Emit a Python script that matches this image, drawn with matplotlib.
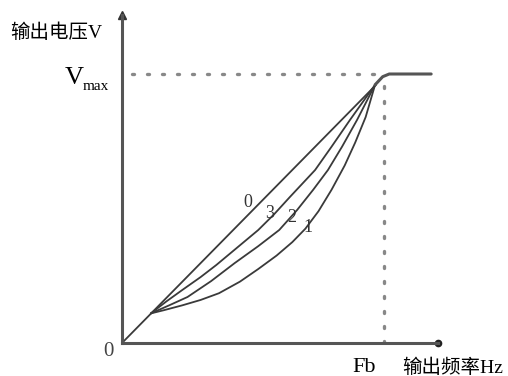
import matplotlib
matplotlib.use('Agg')
import matplotlib.pyplot as plt

# V/F curve data, x in units of Fb, y in units of Vmax
fb = 1.0
vmax = 1.0

x0 = [0.0, 0.97]
y0 = [0.0, 0.96]

x3 = [0.11, 0.17, 0.23, 0.30, 0.36, 0.44, 0.52, 0.58, 0.641, 0.737, 0.80, 0.87, 0.966]
y3 = [0.11, 0.155, 0.197, 0.245, 0.29, 0.355, 0.42, 0.478, 0.543, 0.643, 0.73, 0.829, 0.96]

x2 = [0.11, 0.18, 0.25, 0.34, 0.43, 0.52, 0.60, 0.668, 0.73, 0.786, 0.84, 0.897, 0.966]
y2 = [0.11, 0.14, 0.171, 0.23, 0.297, 0.36, 0.42, 0.494, 0.57, 0.643, 0.73, 0.829, 0.96]

x1 = [0.11, 0.16, 0.23, 0.30, 0.37, 0.45, 0.52, 0.59, 0.65, 0.70, 0.75, 0.80, 0.85, 0.89, 0.93, 0.966]
y1 = [0.11, 0.122, 0.14, 0.16, 0.185, 0.228, 0.275, 0.325, 0.375, 0.425, 0.49, 0.57, 0.66, 0.745, 0.84, 0.96]

# common part: knee and flat section above Fb
x_top = [0.966, 0.995, 1.02, 1.18]
y_top = [0.96, 0.99, 1.0, 1.0]

labels = ['0', '3', '2', '1']
label_pos = [(0.481, 0.524), (0.565, 0.483), (0.649, 0.465), (0.71, 0.428)]

W, H = 508, 376
fig = plt.figure(figsize=(W / 100, H / 100), dpi=100)
ax = fig.add_axes([122 / W, 33 / H, 316 / W, 328 / H])
ax.set_xlim(0, 316 / 262)
ax.set_ylim(0, 328 / 269)

for s in ['top', 'right']:
    ax.spines[s].set_visible(False)
for s in ['left', 'bottom']:
    ax.spines[s].set_linewidth(2.2)
    ax.spines[s].set_color('#555555')
ax.set_xticks([])
ax.set_yticks([])

# arrow heads
ax.plot(0, 1, marker='^', ms=6, color='#333333', transform=ax.transAxes, clip_on=False)
ax.plot(1, 0, marker='o', ms=4.5, color='#222222', transform=ax.transAxes, clip_on=False)

lc = '#3a3a3a'
for xs, ys in [(x0, y0), (x3, y3), (x2, y2), (x1, y1)]:
    ax.plot(xs, ys, color=lc, lw=1.3, solid_capstyle='round', solid_joinstyle='round')
ax.plot(x_top, y_top, color='#555555', lw=2.2, solid_capstyle='round')

# dotted guides
dots = (0, (0.6, 3.9))
ax.plot([0.04, fb], [vmax, vmax], color='#888888', lw=2.4,
        linestyle=dots, dash_capstyle='round')
ax.plot([fb, fb], [vmax - 0.045, 0], color='#888888', lw=2.4,
        linestyle=dots, dash_capstyle='round')

serif = ['Liberation Serif', 'Noto Sans CJK SC']
for t, (lx, ly) in zip(labels, label_pos):
    ax.text(lx, ly, t, fontsize=13, family=serif, color='#333333',
            ha='center', va='center')


def px(x, y):
    return x / W, 1 - y / H


fig.text(*px(10, 33), '输出电压V', fontsize=14, family=serif, va='center', ha='left')
fig.text(*px(84, 78), 'V', fontsize=19, family=serif, va='center', ha='right')
fig.text(*px(83, 87), 'max', fontsize=11, family=serif, va='center', ha='left')
fig.text(*px(108, 352), '0', fontsize=15, family=serif, va='center', ha='center', color='#444444')
fig.text(*px(364, 367), 'Fb', fontsize=16, family=serif, va='center', ha='center')
fig.text(*px(402, 368), '输出频率Hz', fontsize=14, family=serif, va='center', ha='left')

fig.savefig('out.png', dpi=100)
